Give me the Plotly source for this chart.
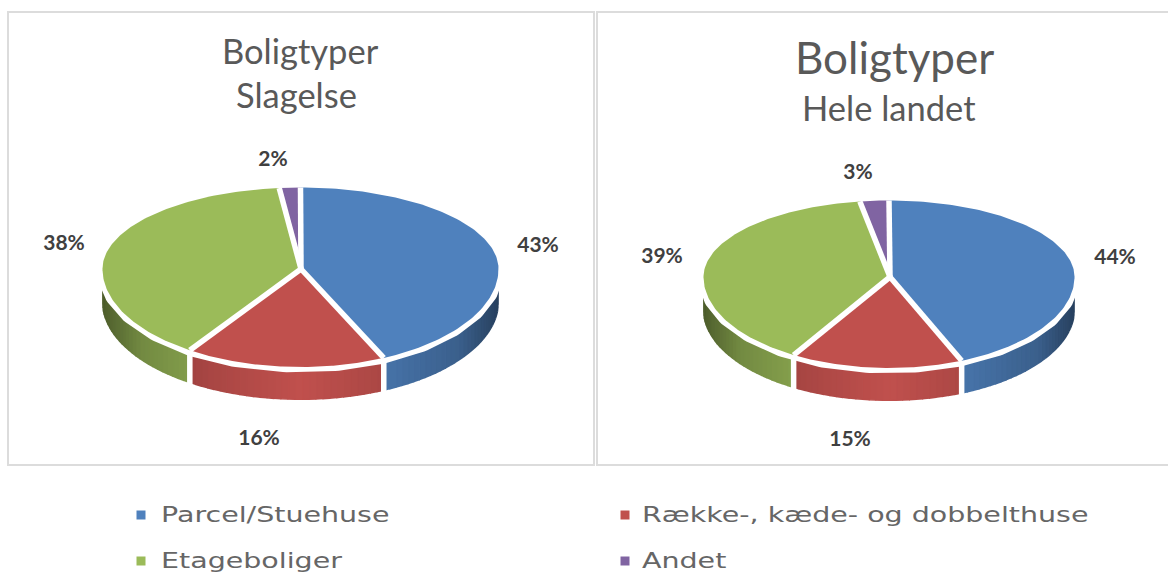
import numpy as np
import plotly.graph_objects as go

# --- data ---
categories = ["Parcel/Stuehuse", "Række-, kæde- og dobbelthuse", "Etageboliger", "Andet"]
slagelse_values = [42.7, 16.2, 38.49, 1.7]
hele_landet_values = [43.6, 15.0, 38.9, 2.51]
titles_left = ["Boligtyper", "Slagelse"]
titles_right = ["Boligtyper", "Hele landet"]

# --- style ---
COLORS = [(79, 129, 189), (192, 80, 77), (155, 187, 89), (128, 100, 162)]
W, H = 1168, 573
GAP = 5.5
HALO = 5.5
SHADE_POS = [0, 0.45, 0.8, 1.0]
SHADE_VAL = [1.0, 0.88, 0.74, 0.50]

PIES = [
    dict(values=slagelse_values, cx=300.5, cy=269, rx=198, ry_up=81.5, ry_down=98, depth=33, apex=(301, 269),
         label_xy=[(538, 247), (259, 440), (64, 245), (273, 161)]),
    dict(values=hele_landet_values, cx=889, cy=277, rx=185.5, ry_up=76.5, ry_down=91, depth=33, apex=(890, 277),
         label_xy=[(1115, 259), (850, 441), (662, 258), (858, 174)]),
]


def rim(p, t):
    t = np.asarray(t, dtype=float)
    c = np.cos(t)
    x = p["cx"] + p["rx"] * np.sin(t)
    y = p["cy"] - np.where(c > 0, p["ry_up"], p["ry_down"]) * c
    return x, y


def rgb(c, f=1.0):
    return "rgb(%d,%d,%d)" % tuple(int(round(v * f)) for v in c)


fig = go.Figure()


def poly(x, y, fill, line=None, lw=0.0):
    fig.add_trace(go.Scatter(x=list(x), y=list(y), mode="lines", fill="toself", fillcolor=fill,
                             line=dict(color=line or fill, width=lw), hoverinfo="skip", showlegend=False))


def seg(x, y, color, width):
    fig.add_trace(go.Scatter(x=list(x), y=list(y), mode="lines", line=dict(color=color, width=width),
                             hoverinfo="skip", showlegend=False))


for p in PIES:
    vals = np.array(p["values"], dtype=float)
    edges = np.concatenate([[0], np.cumsum(vals) / vals.sum()]) * 2 * np.pi
    # side wall, in shaded strips
    for i, col in enumerate(COLORS):
        a = max(edges[i], np.pi / 2)
        b = min(edges[i + 1], 3 * np.pi / 2)
        if b <= a:
            continue
        n = max(2, int((b - a) / np.radians(2)))
        ts = np.linspace(a, b, n + 1)
        for t0, t1 in zip(ts[:-1], ts[1:]):
            tt = np.linspace(t0, t1, 3)
            x, y = rim(p, tt)
            x_in = np.clip(x, p["cx"] - p["rx"] + 0.8, p["cx"] + p["rx"] - 0.8)
            px = np.concatenate([x_in, x_in[::-1]])
            py = np.concatenate([y, y[::-1] + p["depth"] - 0.8])
            f = np.interp(abs(np.sin((t0 + t1) / 2)), SHADE_POS, SHADE_VAL)
            poly(px, py, rgb(col, f), lw=1.6)
    # white gaps on the wall
    for e in edges:
        if np.pi / 2 < e < 3 * np.pi / 2:
            x, y = rim(p, [e])
            seg([x[0], x[0]], [y[0], y[0] + p["depth"] + 3], "white", GAP)
    # white band round the top face
    tt = np.linspace(0, 2 * np.pi, 361)
    x, y = rim(p, tt)
    poly(x, y, "white", line="white", lw=HALO * 2)
    # top faces
    for i, col in enumerate(COLORS):
        tt = np.linspace(edges[i], edges[i + 1], 120)
        x, y = rim(p, tt)
        poly(np.concatenate([[p["apex"][0]], x, [p["apex"][0]]]),
             np.concatenate([[p["apex"][1]], y, [p["apex"][1]]]), rgb(col))
    # white gaps between faces
    for e in edges[:-1]:
        x, y = rim(p, [e])
        seg([p["apex"][0], x[0]], [p["apex"][1], y[0]], "white", GAP)
    # data labels
    fig.add_trace(go.Scatter(x=[q[0] for q in p["label_xy"]], y=[q[1] for q in p["label_xy"]], mode="text",
                             text=[f"{v:.0f}%" for v in p["values"]],
                             textfont=dict(family="Lato", size=21, color="#404040", weight="bold"),
                             hoverinfo="skip", showlegend=False))

# legend keys
key_x = [141, 625, 141, 625]
key_y = [515, 515, 561, 561]
text_x = [159, 640, 159, 640]
for i, c in enumerate(COLORS):
    fig.add_trace(go.Scatter(x=[key_x[i]], y=[key_y[i]], mode="markers",
                             marker=dict(symbol="square", size=9, color=rgb(c)),
                             hoverinfo="skip", showlegend=False))

ann = []


def txt(x, y, s, size, color="#595959", anchor="center", family="Lato"):
    ann.append(dict(x=x, y=y, text=s, xref="x", yref="y", showarrow=False, xanchor=anchor, yanchor="middle",
                    font=dict(family=family, size=size, color=color)))


txt(300.5, 50, titles_left[0], 34.5)
txt(296, 94, titles_left[1], 34.5)
txt(894.5, 57, titles_right[0], 44)
txt(889, 107, titles_right[1], 34.5)
for i, c in enumerate(categories):
    txt(text_x[i], key_y[i], c, 20.5, color="#666666", anchor="left", family="DejaVu Sans")

frame = dict(type="rect", xref="x", yref="y", line=dict(color="#dcdcdc", width=2), fillcolor="rgba(0,0,0,0)", layer="below")
shapes = [dict(frame, x0=8, y0=12, x1=594, y1=465), dict(frame, x0=597, y0=12, x1=1175, y1=465)]

fig.update_layout(
    width=W, height=H, margin=dict(l=0, r=0, t=0, b=0), paper_bgcolor="white", plot_bgcolor="white",
    xaxis=dict(range=[0, W], visible=False, fixedrange=True),
    yaxis=dict(range=[H, 0], visible=False, fixedrange=True),
    annotations=ann, shapes=shapes, showlegend=False,
)
# the legend text in the reference is stretched horizontally
stretch = """
document.body.style.margin='0';document.body.style.overflow='hidden';
document.querySelectorAll('.annotation-text').forEach(function(el){
  if (el.style.fontFamily.indexOf('DejaVu') < 0) return;
  var r = el.getBBox(); var x = r.x;
  el.setAttribute('transform', 'translate(' + x + ',0) scale(1.39,1) translate(' + (-x) + ',0)');
});
"""
fig.write_html("out.html", config=dict(displayModeBar=False), post_script=stretch)
